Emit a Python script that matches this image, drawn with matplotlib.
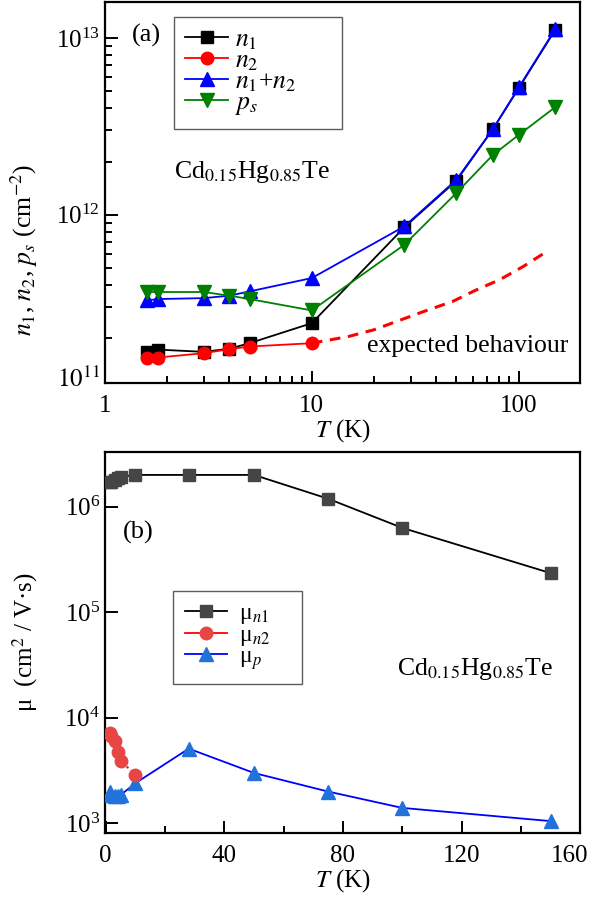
import matplotlib
matplotlib.use("Agg")
import matplotlib.pyplot as plt
from matplotlib.lines import Line2D
from matplotlib.ticker import LogLocator, FixedLocator, NullLocator, NullFormatter, LogFormatterMathtext, MultipleLocator

plt.rcParams['font.family'] = ['Liberation Serif', 'DejaVu Serif']
plt.rcParams['mathtext.fontset'] = 'stix'
plt.rcParams['font.size'] = 18

# panel (a): carrier densities, cm^-2
T_a = [1.6, 1.8, 3, 4, 5, 10, 28, 50, 75, 100, 150]
n1 = [1.67e11, 1.73e11, 1.68e11, 1.75e11, 1.88e11, 2.44e11, 8.5e11, 1.56e12, 3.05e12, 5.2e12, 1.11e13]
T_n2 = [1.6, 1.8, 3, 4, 5, 10]
n2 = [1.56e11, 1.56e11, 1.65e11, 1.74e11, 1.80e11, 1.88e11]
n12 = [3.28e11, 3.34e11, 3.38e11, 3.49e11, 3.69e11, 4.39e11, 8.6e11, 1.58e12, 3.05e12, 5.25e12, 1.12e13]
ps = [3.66e11, 3.66e11, 3.66e11, 3.49e11, 3.34e11, 2.88e11, 6.77e11, 1.33e12, 2.18e12, 2.83e12, 4.06e12]
T_exp = [10, 15, 20, 27, 35, 48, 62, 81, 105, 135]
n_exp = [1.88e11, 2.05e11, 2.24e11, 2.55e11, 2.85e11, 3.24e11, 3.75e11, 4.3e11, 5.1e11, 6.15e11]

# panel (b): mobilities, cm^2/Vs
T_b = [1.6, 1.8, 3, 4, 5, 10, 28, 50, 75, 100, 150]
mu_n1 = [1.7e6, 1.72e6, 1.8e6, 1.88e6, 1.92e6, 2.0e6, 2.0e6, 2.0e6, 1.19e6, 6.3e5, 2.35e5]
mu_n2 = [7.2e3, 6.7e3, 6.0e3, 4.75e3, 3.9e3, 2.9e3]
mu_p = [2.0e3, 1.85e3, 1.8e3, 1.8e3, 1.85e3, 2.4e3, 5.1e3, 3.0e3, 2.0e3, 1.4e3, 1.05e3]
b_ticks = [0, 40, 80, 120, 160]

fig = plt.figure(figsize=(5.89, 8.98), dpi=100)
ax1 = fig.add_axes([0.178, 0.5735, 0.807, 0.4245])
ax2 = fig.add_axes([0.178, 0.0724, 0.807, 0.4243])

ms = 8
ax1.plot(T_a, n1, '-s', color='black', mfc='black', mec='black', ms=ms, lw=1.3, label=r'$n_1$')
ax1.plot(T_n2, n2, '-o', color='red', mfc='red', mec='red', ms=ms + 1, lw=1.3, label=r'$n_2$')
ax1.plot(T_exp, n_exp, color='red', lw=2.2, ls=(0, (3.5, 2.5)))
ax1.plot(T_a, n12, '-^', color='blue', mfc='blue', mec='blue', ms=ms + 1.5, lw=1.3, label=r'$n_{\mathit{1}}$+$n_2$')
ax1.plot(T_a, ps, '-v', color='green', mfc='green', mec='green', ms=ms + 1.5, lw=1.3, label=r'$p_s$')

ax1.set_xscale('log')
ax1.set_yscale('log')
ax1.set_xlim(1, 198)
ax1.set_ylim(1.12e11, 1.6e13)
ax1.xaxis.set_major_locator(FixedLocator([1, 10, 100]))
ax1.set_xticklabels(['1', '10', '100'])
ax1.xaxis.set_minor_locator(LogLocator(base=10, subs=range(2, 10)))
ax1.xaxis.set_minor_formatter(NullFormatter())
ax1.yaxis.set_major_locator(FixedLocator([1e12, 1e13]))
ax1.yaxis.set_major_formatter(LogFormatterMathtext())
ax1.yaxis.set_minor_locator(LogLocator(base=10, subs=range(2, 10)))
ax1.yaxis.set_minor_formatter(NullFormatter())
ax1.text(-0.01, 0.01, r'$10^{11}$', transform=ax1.transAxes, ha='right', va='center')
ax1.set_xlabel(r'$T$ (K)', labelpad=0)
ax1.set_ylabel(r'$n_1$, $n_2$, $p_s$ (cm$^{-2}$)', fontsize=18.5)
ax1.yaxis.set_label_coords(-0.137, 0.35)
ax1.text(0.057, 0.911, '(a)', transform=ax1.transAxes, fontsize=19, va='center')
ax1.text(0.145, 0.538, r'Cd$_{0.15}$Hg$_{0.85}$Te', transform=ax1.transAxes, fontsize=18.5, va='baseline')
ax1.text(0.975, 0.081, 'expected behaviour', transform=ax1.transAxes, ha='right', va='baseline', fontsize=18.5)
leg1 = ax1.legend(loc='upper left', bbox_to_anchor=(0.145, 0.661, 0.354, 0.3), mode='expand',
                  borderaxespad=0, frameon=True, fancybox=False, edgecolor='#333333',
                  handlelength=1.65, handletextpad=0.3, labelspacing=-0.1, borderpad=0.45, fontsize=18.5)
leg1.get_frame().set_linewidth(1.0)

ax2.plot(T_b, mu_n1, '-s', color='black', mfc='#454545', mec='#454545', ms=ms, lw=1.3, zorder=3)
ax2.plot(T_n2, mu_n2, ':', color='red', lw=1.5, zorder=3)
ax2.plot(T_n2, mu_n2, 'o', mfc='#e84545', mec='#e84545', ms=ms + 1, zorder=4)
ax2.plot(T_b, mu_p, '-^', color='blue', mfc='#2272dc', mec='#2272dc', ms=ms + 1.5, lw=1.3, zorder=3)
ax2.set_yscale('log')
ax2.set_xlim(-0.3, 160)
ax2.set_ylim(8.1e2, 3.3e6)
ax2.xaxis.set_major_locator(FixedLocator(b_ticks))
ax2.set_xticklabels([str(t) for t in b_ticks[:-1]] + [''])
ax2.annotate(str(b_ticks[-1]), xy=(b_ticks[-1], 0), xycoords=('data', 'axes fraction'),
             xytext=(6, -9), textcoords='offset points', ha='right', va='top', fontsize=18)
ax2.xaxis.set_minor_locator(MultipleLocator(20))
ax2.yaxis.set_major_locator(FixedLocator([1e3, 1e4, 1e5, 1e6]))
ax2.yaxis.set_major_formatter(LogFormatterMathtext())
ax2.yaxis.set_minor_locator(NullLocator())
ax2.set_xlabel(r'$T$ (K)', labelpad=0)
ax2.set_ylabel('μ  (cm$^2$ / V·s)')
ax2.yaxis.set_label_coords(-0.137, 0.5)
ax2.text(0.038, 0.79, '(b)', transform=ax2.transAxes, fontsize=19, va='center')
ax2.text(0.615, 0.415, r'Cd$_{0.15}$Hg$_{0.85}$Te', transform=ax2.transAxes, fontsize=18.5, va='baseline')
handles2 = [
    Line2D([], [], color='black', marker='s', mfc='#454545', mec='#454545', ms=ms, lw=1.3),
    Line2D([], [], color='red', marker='o', mfc='#e84545', mec='#e84545', ms=ms + 1, lw=1.3),
    Line2D([], [], color='blue', marker='^', mfc='#2272dc', mec='#2272dc', ms=ms + 1.5, lw=1.3),
]
leg2 = ax2.legend(handles2, [r'μ$_{\mathit{n1}}$', r'μ$_{\mathit{n2}}$', r'μ$_p$'], loc='upper left',
                  bbox_to_anchor=(0.143, 0.335, 0.272, 0.3), mode='expand', borderaxespad=0,
                  frameon=True, fancybox=False, edgecolor='#333333', handlelength=1.8,
                  handletextpad=0.5, labelspacing=-0.08, borderpad=0.5, fontsize=17)
leg2.get_frame().set_linewidth(1.0)

for ax in (ax1, ax2):
    for s in ax.spines.values():
        s.set_linewidth(1.6)
    ax.tick_params(which='both', direction='in', top=False, right=False, width=1.4)
    ax.tick_params(which='major', length=9)
    ax.tick_params(which='minor', length=5)
    ax.tick_params(axis='x', which='major', pad=9)
    ax.tick_params(axis='y', which='major', pad=3.5)

fig.savefig('out.png', dpi=100)
